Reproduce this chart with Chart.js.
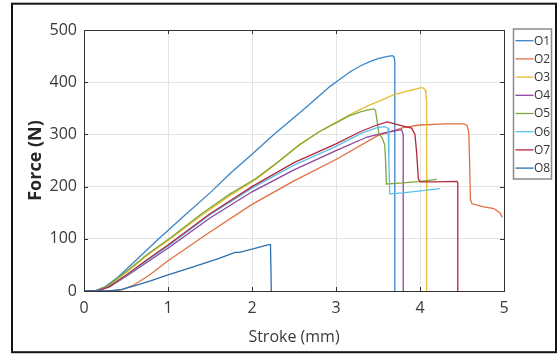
<!DOCTYPE html>
<html><head><meta charset="utf-8">
<script src="https://cdn.jsdelivr.net/npm/chart.js@4.4.1/dist/chart.umd.min.js"></script>
<style>html,body{margin:0;padding:0;background:#fff;}#wrap{width:558px;height:356px;position:relative;}</style>
</head><body><div id="wrap"><canvas id="c" width="558" height="356"></canvas></div>
<script>
// ---- data ----
const seriesNames = ['O1','O2','O3','O4','O5','O6','O7','O8'];
const seriesColors = ['#3a85c5','#e07040','#e8bc30','#8e44a0','#80a83a','#58c2ee','#b3263d','#2a6fb0'];

const strokeO1 = [0, 0.12, 0.25, 0.4, 0.6, 0.89, 1.2, 1.5, 1.74, 2.0, 2.26, 2.6, 2.93, 3.05, 3.17, 3.3, 3.41, 3.5, 3.6, 3.67, 3.69, 3.70, 3.70];
const forceO1  = [0, 0, 8, 26, 56, 100, 145, 188, 225, 262, 300, 346, 392, 406, 420, 432, 440, 445, 449, 451, 449, 440, 0];

const strokeO2 = [0, 0.3, 0.45, 0.6, 0.8, 1.0, 1.5, 2.0, 2.5, 3.0, 3.49, 3.8, 4.0, 4.3, 4.52, 4.56, 4.58, 4.59, 4.6, 4.62, 4.76, 4.88, 4.95, 4.98];
const forceO2  = [0, 0, 2, 12, 33, 58, 113, 166, 211, 252, 297, 313, 318, 320, 320, 317, 305, 250, 175, 167, 161, 158, 150, 141];

const strokeO3 = [0, 0.15, 0.3, 0.5, 0.75, 1.03, 1.4, 1.74, 2.05, 2.3, 2.57, 2.8, 3.0, 3.2, 3.37, 3.55, 3.69, 3.85, 3.93, 4.0, 4.04, 4.06, 4.07, 4.08, 4.08];
const forceO3  = [0, 0, 10, 35, 68, 100, 145, 183, 214, 245, 280, 305, 323, 341, 354, 366, 376, 383, 386, 389, 389, 386, 378, 360, 0];

const strokeO4 = [0, 0.15, 0.3, 0.5, 0.75, 1.0, 1.5, 2.0, 2.5, 3.0, 3.37, 3.55, 3.7, 3.78, 3.8, 3.8];
const forceO4  = [0, 0, 8, 28, 55, 82, 140, 190, 232, 269, 295, 302, 307, 309, 300, 0];

const strokeO5 = [0, 0.15, 0.3, 0.5, 0.75, 1.03, 1.4, 1.74, 2.05, 2.3, 2.57, 2.8, 3.0, 3.15, 3.29, 3.38, 3.45, 3.47, 3.49, 3.51, 3.55, 3.58, 3.59, 3.6, 3.8, 4.0, 4.2];
const forceO5  = [0, 0, 12, 37, 70, 102, 148, 186, 216, 246, 281, 305, 322, 335, 343, 347, 349, 346, 325, 302, 293, 280, 250, 205, 207, 210, 214];

const strokeO6 = [0, 0.15, 0.3, 0.5, 0.75, 1.0, 1.5, 2.0, 2.5, 3.0, 3.3, 3.49, 3.58, 3.62, 3.63, 3.64, 3.8, 4.0, 4.24];
const forceO6  = [0, 0, 8, 29, 58, 86, 146, 197, 241, 277, 302, 313, 315, 312, 250, 186, 188, 192, 196];

const strokeO7 = [0, 0.15, 0.3, 0.5, 0.75, 1.0, 1.5, 2.0, 2.5, 3.0, 3.3, 3.49, 3.61, 3.7, 3.8, 3.9, 3.94, 3.96, 3.98, 4.0, 4.2, 4.44, 4.45, 4.45];
const forceO7  = [0, 0, 8, 30, 60, 88, 148, 200, 246, 282, 306, 318, 324, 320, 316, 312, 300, 265, 215, 209, 209, 210, 208, 0];

const strokeO8 = [0, 0.3, 0.45, 0.6, 0.8, 1.0, 1.3, 1.6, 1.8, 1.85, 2.0, 2.2, 2.22, 2.23];
const forceO8  = [0, 0, 3, 10, 20, 31, 46, 62, 74, 74, 80, 89, 89, 0];

const xTickValues = [0, 1, 2, 3, 4, 5];
const yTickValues = [0, 100, 200, 300, 400, 500];
const xTitle = 'Stroke (mm)';
const yTitle = 'Force (N)';

const strokes = [strokeO1, strokeO2, strokeO3, strokeO4, strokeO5, strokeO6, strokeO7, strokeO8];
const forces  = [forceO1, forceO2, forceO3, forceO4, forceO5, forceO6, forceO7, forceO8];

const datasets = seriesNames.map((name, i) => ({
  label: name,
  data: strokes[i].map((x, j) => ({x: x, y: forces[i][j]})),
  borderColor: seriesColors[i],
  backgroundColor: seriesColors[i],
  borderWidth: 1.3,
  pointRadius: 0,
  showLine: true,
  tension: 0,
  fill: false,
  order: seriesNames.length - i
}));

const FONT = '"Open Sans", "DejaVu Sans", sans-serif';

const decorPlugin = {
  id: 'decor',
  beforeDraw(chart) {
    const ctx = chart.ctx;
    ctx.save();
    ctx.fillStyle = '#fff';
    ctx.fillRect(0, 0, chart.width, chart.height);
    ctx.restore();
  },
  afterDraw(chart) {
    const ctx = chart.ctx;
    const a = chart.chartArea;
    const xs = chart.scales.x, ys = chart.scales.y;
    ctx.save();
    // axes box
    ctx.strokeStyle = '#333';
    ctx.lineWidth = 1;
    ctx.strokeRect(Math.round(a.left) + 0.5, Math.round(a.top) + 0.5, Math.round(a.right - a.left), Math.round(a.bottom - a.top));
    // inner tick marks
    const tl = 4;
    ctx.beginPath();
    xTickValues.forEach(v => {
      const p = Math.round(xs.getPixelForValue(v)) + 0.5;
      ctx.moveTo(p, a.bottom); ctx.lineTo(p, a.bottom - tl);
      ctx.moveTo(p, a.top); ctx.lineTo(p, a.top + tl);
    });
    yTickValues.forEach(v => {
      const p = Math.round(ys.getPixelForValue(v)) + 0.5;
      ctx.moveTo(a.left, p); ctx.lineTo(a.left + tl, p);
      ctx.moveTo(a.right, p); ctx.lineTo(a.right - tl, p);
    });
    ctx.stroke();
    // outer frame
    ctx.strokeStyle = '#151515';
    ctx.lineWidth = 2;
    ctx.strokeRect(12, 3.7, 544, 348.5);
    // legend
    const lx = 513.5, ly = 29, lw = 38, lh = 150, first = 40.7, row = 18.2;
    ctx.fillStyle = '#fff';
    ctx.fillRect(lx, ly, lw, lh);
    ctx.strokeStyle = '#8a8a8a';
    ctx.lineWidth = 1.5;
    ctx.strokeRect(lx, ly, lw, lh);
    ctx.font = '12px ' + FONT;
    ctx.textBaseline = 'middle';
    ctx.textAlign = 'left';
    chart.data.datasets.forEach((ds, i) => {
      const y = first + i * row;
      ctx.strokeStyle = ds.borderColor;
      ctx.lineWidth = 1.3;
      ctx.beginPath();
      ctx.moveTo(lx + 2, y); ctx.lineTo(lx + 20, y);
      ctx.stroke();
      ctx.fillStyle = '#333';
      ctx.fillText(ds.label, lx + 20.5, y + 0.5);
    });
    ctx.restore();
  }
};

new Chart(document.getElementById('c'), {
  type: 'scatter',
  data: { datasets: datasets },
  plugins: [decorPlugin],
  options: {
    responsive: false,
    animation: false,
    devicePixelRatio: 1,
    layout: { padding: { left: 12, right: 54, top: 30, bottom: 5 } },
    plugins: { legend: { display: false }, tooltip: { enabled: false } },
    scales: {
      x: {
        type: 'linear', min: xTickValues[0], max: xTickValues[xTickValues.length - 1],
        afterBuildTicks: s => { s.ticks = xTickValues.map(v => ({value: v})); },
        afterFit: s => { s.height = 60; },
        grid: { color: '#e4e4e4', lineWidth: 1, drawTicks: false },
        border: { display: false },
        ticks: { color: '#3a3a3a', padding: 8, font: { family: FONT, size: 16 }, maxRotation: 0 },
        title: { display: true, text: xTitle, color: '#3a3a3a', font: { family: FONT, size: 16 }, padding: { top: 0, bottom: 4 } }
      },
      y: {
        type: 'linear', min: yTickValues[0], max: yTickValues[yTickValues.length - 1],
        afterBuildTicks: s => { s.ticks = yTickValues.map(v => ({value: v})); },
        afterFit: s => { s.width = 72; },
        grid: { color: '#e4e4e4', lineWidth: 1, drawTicks: false },
        border: { display: false },
        ticks: { color: '#3a3a3a', padding: 7, font: { family: FONT, size: 16 } },
        title: { display: true, text: yTitle, color: '#262626', font: { family: FONT, size: 18, weight: 'bold' }, padding: { top: 13, bottom: 0 } }
      }
    }
  }
});
</script>
</body></html>
